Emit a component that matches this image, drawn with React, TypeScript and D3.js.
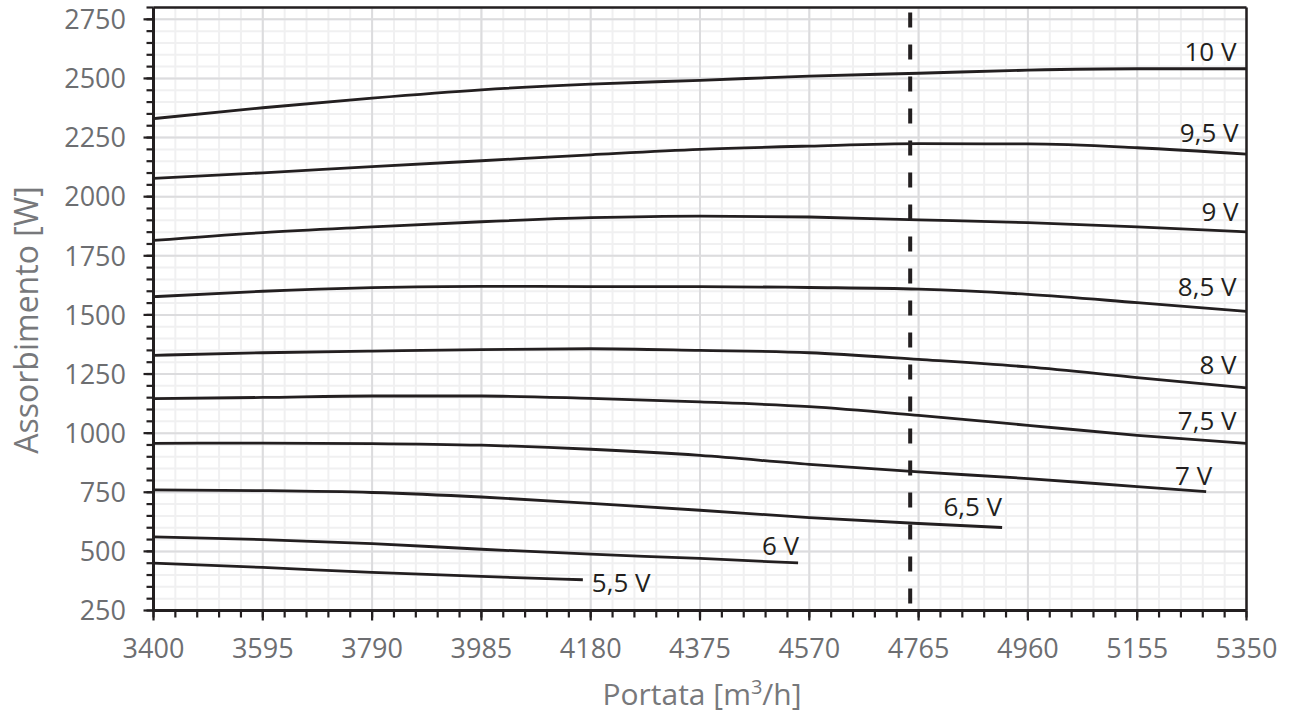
import React from 'react';
import * as d3 from 'd3';

// ---- data ----
const flowTicks = [3400, 3595, 3790, 3985, 4180, 4375, 4570, 4765, 4960, 5155, 5350];
const powerTicks = [250, 500, 750, 1000, 1250, 1500, 1750, 2000, 2250, 2500, 2750];
const flowDomain = [3400, 5350];
const powerDomain = [250, 2800];
const refFlow = 4750;

const flow10 = [3400, 3595, 3790, 3985, 4180, 4375, 4570, 4765, 4960, 5155, 5350];
const pow10 = [2330, 2376, 2417, 2452, 2476, 2492, 2510, 2522, 2535, 2541, 2541];
const flow95 = [3400, 3595, 3790, 3985, 4180, 4375, 4570, 4765, 4960, 5155, 5350];
const pow95 = [2077, 2101, 2127, 2152, 2177, 2200, 2214, 2224, 2223, 2207, 2180];
const flow9 = [3400, 3595, 3790, 3985, 4180, 4375, 4570, 4765, 4960, 5155, 5350];
const pow9 = [1815, 1848, 1872, 1894, 1911, 1918, 1914, 1902, 1890, 1872, 1851];
const flow85 = [3400, 3595, 3790, 3985, 4180, 4375, 4570, 4765, 4960, 5155, 5350];
const pow85 = [1577, 1600, 1615, 1621, 1620, 1620, 1616, 1609, 1587, 1552, 1515];
const flow8 = [3400, 3595, 3790, 3985, 4180, 4375, 4570, 4765, 4960, 5155, 5350];
const pow8 = [1329, 1340, 1347, 1353, 1357, 1350, 1340, 1312, 1280, 1235, 1191];
const flow75 = [3400, 3595, 3790, 3985, 4180, 4375, 4570, 4765, 4960, 5155, 5350];
const pow75 = [1146, 1151, 1157, 1157, 1147, 1132, 1112, 1075, 1033, 991, 957];
const flow7 = [3400, 3595, 3790, 3985, 4180, 4375, 4570, 4765, 4960, 5155, 5278];
const pow7 = [957, 958, 956, 949, 932, 906, 868, 836, 808, 774, 753];
const flow65 = [3400, 3595, 3790, 3985, 4180, 4375, 4570, 4765, 4914];
const pow65 = [760, 757, 749, 730, 703, 674, 643, 618, 601];
const flow6 = [3400, 3595, 3790, 3985, 4180, 4375, 4550];
const pow6 = [561, 550, 533, 509, 488, 470, 451];
const flow55 = [3400, 3595, 3790, 3985, 4166];
const pow55 = [450, 432, 411, 394, 380];

const seriesLabels = ['10 V', '9,5 V', '9 V', '8,5 V', '8 V', '7,5 V', '7 V', '6,5 V', '6 V', '5,5 V'];
const seriesFlows = [flow10, flow95, flow9, flow85, flow8, flow75, flow7, flow65, flow6, flow55];
const seriesPowers = [pow10, pow95, pow9, pow85, pow8, pow75, pow7, pow65, pow6, pow55];

// label layout (offsets from each curve's end point, in px)
const labelDx = [-10, -8, -8, -10, -10, -10, 6, 0, 1, 9];
const labelDy = [-8, -12, -11, -15, -14, -13, -7, -11, -8, 12];
const labelAnchor = ['end', 'end', 'end', 'end', 'end', 'end', 'end', 'end', 'end', 'start'];

const W = 1293;
const H = 717;
const L = 153.5, R = 1246.5, T = 7.5, B = 610.5;

const INK = '#231f20';
const TICK_GREY = '#6d6e71';
const FONT = '"Open Sans", "Noto Sans", sans-serif';

export default function App() {
  const x = d3.scaleLinear().domain(flowDomain).range([L, R]);
  const y = d3.scaleLinear().domain(powerDomain).range([B, T]);

  const xMinor = d3.range(flowDomain[0], flowDomain[1] + 1, 39);
  const yMinor = d3.range(powerDomain[0], powerDomain[1] + 1, 50);

  const line = d3
    .line<[number, number]>()
    .x((d) => x(d[0]))
    .y((d) => y(d[1]))
    .curve(d3.curveMonotoneX);

  const series = seriesLabels.map((name, i) => ({
    name,
    pts: seriesFlows[i].map((f, j) => [f, seriesPowers[i][j]] as [number, number]),
  }));

  return (
    <svg width={W} height={H} style={{ position: 'absolute', left: 0, top: 0, background: '#fff' }} fontFamily={FONT}>
      <rect x={0} y={0} width={W} height={H} fill="#fff" />
      {/* minor grid */}
      {xMinor.map((v) => (
        <line key={'gx' + v} x1={x(v)} x2={x(v)} y1={T} y2={B} stroke="#f0f0f1" strokeWidth={2} />
      ))}
      {yMinor.map((v) => (
        <line key={'gy' + v} x1={L} x2={R} y1={y(v)} y2={y(v)} stroke="#f0f0f1" strokeWidth={2} />
      ))}
      {/* major grid */}
      {flowTicks.map((v) => (
        <line key={'Gx' + v} x1={x(v)} x2={x(v)} y1={T} y2={B} stroke="#dcdcde" strokeWidth={2} />
      ))}
      {powerTicks.map((v) => (
        <line key={'Gy' + v} x1={L} x2={R} y1={y(v)} y2={y(v)} stroke="#dcdcde" strokeWidth={2} />
      ))}

      {/* curves */}
      {series.map((s) => (
        <path key={s.name} d={line(s.pts) || ''} fill="none" stroke={INK} strokeWidth={2.8} strokeLinecap="butt" />
      ))}

      {/* reference dashed line */}
      <line x1={x(refFlow)} x2={x(refFlow)} y1={T + 5} y2={B - 2} stroke={INK} strokeWidth={4} strokeDasharray="15 17" />

      {/* curve labels */}
      {series.map((s, i) => {
        const last = s.pts[s.pts.length - 1];
        return (
          <text
            key={'l' + s.name}
            x={x(last[0]) + labelDx[i]}
            y={y(last[1]) + labelDy[i]}
            textAnchor={labelAnchor[i] as any}
            fontSize={26}
            fill={INK}
          >
            {s.name}
          </text>
        );
      })}

      {/* frame */}
      <line x1={L} x2={R} y1={T} y2={T} stroke={INK} strokeWidth={2.5} />
      <line x1={R} x2={R} y1={T} y2={B} stroke={INK} strokeWidth={2.5} />

      {/* y axis */}
      {yMinor.map((v) => (
        <line key={'ty' + v} x1={L - 7} x2={L} y1={y(v)} y2={y(v)} stroke={INK} strokeWidth={2.2} />
      ))}
      {powerTicks.map((v) => (
        <line key={'Ty' + v} x1={L - 10} x2={L} y1={y(v)} y2={y(v)} stroke={INK} strokeWidth={2.2} />
      ))}
      <line x1={L} x2={L} y1={T} y2={B + 1.5} stroke={INK} strokeWidth={3} />
      {powerTicks.map((v) => (
        <text key={'ly' + v} x={126} y={y(v)} dy="0.36em" textAnchor="end" fontSize={27} fill={TICK_GREY}>
          {v}
        </text>
      ))}

      {/* x axis */}
      {xMinor.map((v) => (
        <line key={'tx' + v} x1={x(v)} x2={x(v)} y1={B} y2={B + 7} stroke={INK} strokeWidth={2.2} />
      ))}
      {flowTicks.map((v) => (
        <line key={'Tx' + v} x1={x(v)} x2={x(v)} y1={B} y2={B + 10} stroke={INK} strokeWidth={2.2} />
      ))}
      <line x1={L - 1.5} x2={R} y1={B} y2={B} stroke={INK} strokeWidth={3} />
      {flowTicks.map((v) => (
        <text key={'lx' + v} x={x(v)} y={658} textAnchor="middle" fontSize={27} fill={TICK_GREY}>
          {v}
        </text>
      ))}

      {/* axis titles */}
      <text x={(L + R) / 2 + 2} y={705} textAnchor="middle" fontSize={30} fill="#77787b">
        Portata [m
        <tspan dy={-11} fontSize={20}>3</tspan>
        <tspan dy={11}>/h]</tspan>
      </text>
      <text transform="translate(38,320) rotate(-90)" textAnchor="middle" fontSize={32} fill="#77787b">
        Assorbimento [W]
      </text>
    </svg>
  );
}
